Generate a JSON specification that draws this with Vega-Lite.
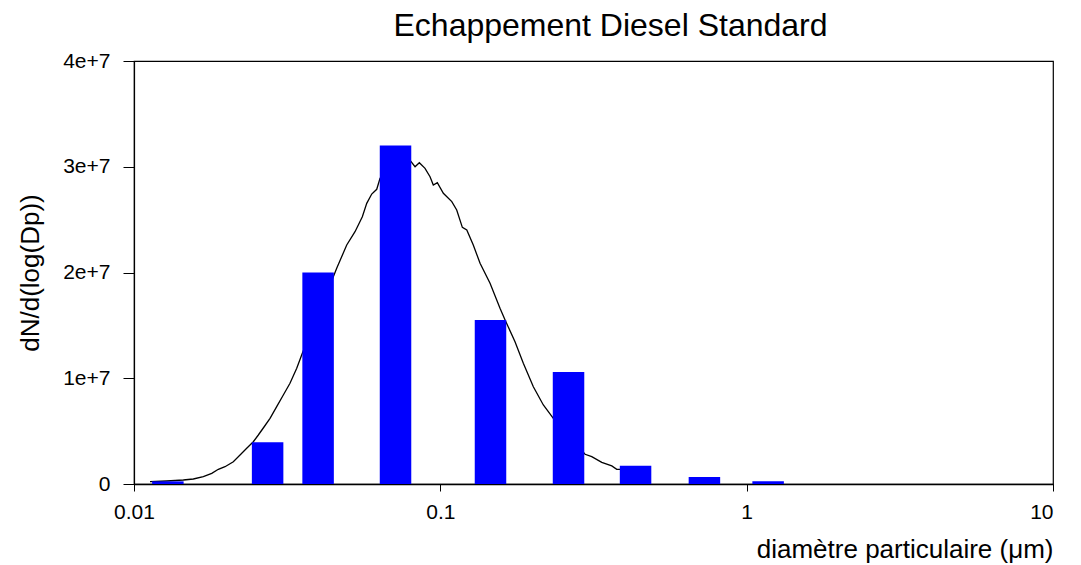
{
  "$schema": "https://vega.github.io/schema/vega-lite/v6.json",
  "width": 919,
  "height": 423,
  "autosize": {"type": "none"},
  "padding": {"left": 134, "top": 61, "right": 28, "bottom": 81},
  "background": "white",
  "config": {
    "font": "Liberation Sans",
    "view": {"stroke": "black", "strokeWidth": 1.2},
    "axis": {"grid": false, "domainColor": "black", "tickColor": "black", "labelColor": "black", "titleColor": "black", "titleFontWeight": "normal", "labelFont": "Liberation Sans", "titleFont": "Liberation Sans"}
  },
  "title": {"text": "Echappement Diesel Standard", "fontSize": 32, "fontWeight": "normal", "color": "black", "dx": 17, "offset": 7, "font": "Liberation Sans"},
  "datasets": {
    "bars": [
      {"d": 0.0129, "n": 250000},
      {"d": 0.0273, "n": 3950000},
      {"d": 0.0399, "n": 20000000},
      {"d": 0.0714, "n": 32000000},
      {"d": 0.1458, "n": 15500000},
      {"d": 0.2621, "n": 10600000},
      {"d": 0.4338, "n": 1730000},
      {"d": 0.7279, "n": 660000},
      {"d": 1.175, "n": 260000}
    ],
    "curve": [
      {"d": 0.01128, "n": 217000},
      {"d": 0.01279, "n": 284000},
      {"d": 0.01449, "n": 378000},
      {"d": 0.01562, "n": 473000},
      {"d": 0.01684, "n": 690000},
      {"d": 0.01794, "n": 1012000},
      {"d": 0.01885, "n": 1390000},
      {"d": 0.01982, "n": 1636000},
      {"d": 0.0211, "n": 2109000},
      {"d": 0.02219, "n": 2742000},
      {"d": 0.02333, "n": 3376000},
      {"d": 0.02452, "n": 4000000},
      {"d": 0.02546, "n": 4634000},
      {"d": 0.02657, "n": 5390000},
      {"d": 0.0278, "n": 6213000},
      {"d": 0.02923, "n": 7310000},
      {"d": 0.03072, "n": 8416000},
      {"d": 0.0323, "n": 9520000},
      {"d": 0.03398, "n": 10940000},
      {"d": 0.03544, "n": 12360000},
      {"d": 0.04474, "n": 19600000},
      {"d": 0.04589, "n": 20400000},
      {"d": 0.04948, "n": 22600000},
      {"d": 0.05266, "n": 23860000},
      {"d": 0.05564, "n": 25280000},
      {"d": 0.05751, "n": 26540000},
      {"d": 0.05971, "n": 27420000},
      {"d": 0.062, "n": 27870000},
      {"d": 0.06357, "n": 28910000},
      {"d": 0.08024, "n": 30480000},
      {"d": 0.08269, "n": 30000000},
      {"d": 0.0854, "n": 30380000},
      {"d": 0.08913, "n": 29850000},
      {"d": 0.09255, "n": 29060000},
      {"d": 0.09486, "n": 28270000},
      {"d": 0.09777, "n": 28490000},
      {"d": 0.1023, "n": 27490000},
      {"d": 0.109, "n": 26700000},
      {"d": 0.1131, "n": 25910000},
      {"d": 0.118, "n": 24270000},
      {"d": 0.122, "n": 24020000},
      {"d": 0.1281, "n": 22600000},
      {"d": 0.1348, "n": 20870000},
      {"d": 0.1453, "n": 18980000},
      {"d": 0.1566, "n": 16610000},
      {"d": 0.1627, "n": 15510000},
      {"d": 0.1753, "n": 13460000},
      {"d": 0.1866, "n": 11410000},
      {"d": 0.2012, "n": 9200000},
      {"d": 0.2169, "n": 7470000},
      {"d": 0.2338, "n": 6213000},
      {"d": 0.2968, "n": 2810000},
      {"d": 0.3121, "n": 2580000},
      {"d": 0.3365, "n": 2050000},
      {"d": 0.3628, "n": 1710000},
      {"d": 0.3766, "n": 1390000},
      {"d": 0.3862, "n": 1390000}
    ]
  },
  "layer": [
    {
      "data": {"name": "curve"},
      "mark": {"type": "line", "color": "black", "strokeWidth": 1.3},
      "encoding": {
        "x": {
          "field": "d", "type": "quantitative",
          "scale": {"type": "log", "domain": [0.01, 10], "nice": false, "padding": 0},
          "axis": {
            "values": [0.01, 0.1, 1, 10],
            "labelExpr": "'' + datum.value",
            "labelFontSize": 21,
            "labelPadding": 10,
            "labelFlush": false,
            "labelAlign": {"expr": "datum.value == 10 ? 'right' : 'center'"},
            "tickSize": 7,
            "domainWidth": 1.5,
            "title": "diamètre particulaire (μm)",
            "titleFontSize": 26,
            "titleAnchor": "end",
            "titlePadding": 14
          }
        },
        "y": {
          "field": "n", "type": "quantitative",
          "scale": {"domain": [0, 40000000], "nice": false, "padding": 0},
          "axis": {
            "values": [0, 10000000, 20000000, 30000000, 40000000],
            "labelExpr": "datum.value == 0 ? '0' : (datum.value / 10000000) + 'e+7'",
            "labelFontSize": 21,
            "labelPadding": 13,
            "tickSize": 11,
            "domainWidth": 1.2,
            "title": "dN/d(log(Dp))",
            "titleFontSize": 26,
            "titlePadding": 19
          }
        }
      }
    },
    {
      "data": {"name": "bars"},
      "mark": {"type": "bar", "color": "#0000ff", "size": 31.5, "orient": "vertical"},
      "encoding": {
        "x": {"field": "d", "type": "quantitative"},
        "y": {"field": "n", "type": "quantitative"}
      }
    }
  ]
}
